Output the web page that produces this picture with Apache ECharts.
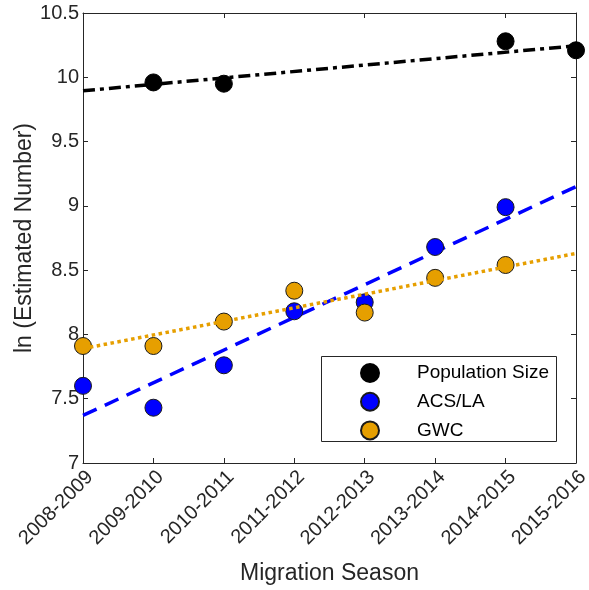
<!DOCTYPE html>
<html><head><meta charset="utf-8">
<script src="https://cdn.jsdelivr.net/npm/echarts@6/dist/echarts.min.js"></script>
<style>html,body{margin:0;padding:0;background:#fff}#c{width:589px;height:590px}</style>
</head><body><div id="c"></div>
<script>
const seasons = ['2008-2009','2009-2010','2010-2011','2011-2012','2012-2013','2013-2014','2014-2015','2015-2016'];
const popSize = [null, 9.96, 9.95, null, null, null, 10.28, 10.21];
const acsLa  = [7.60, 7.43, 7.76, 8.18, 8.25, 8.68, 8.99, null];
const gwc    = [7.91, 7.91, 8.10, 8.34, 8.17, 8.44, 8.54, null];
// fitted trend lines: [start value at first season, end value at last season]
const popTrend = [9.895, 10.245];
const acsTrend = [7.37, 9.15];
const gwcTrend = [7.89, 8.63];

const font = 'Liberation Sans, Arial, Helvetica, sans-serif';
const txt = '#262626';
const last = seasons.length - 1;
function trend(v){ return [[0, v[0]], [last, v[1]]]; }

const chart = echarts.init(document.getElementById('c'), null, {renderer:'canvas'});
const axisLine = {show:true, lineStyle:{color:'#262626', width:1}};
const tick = {show:true, inside:true, length:5, lineStyle:{color:'#262626'}};
chart.setOption({
  animation:false,
  backgroundColor:'#fff',
  textStyle:{fontFamily:font},
  grid:{left:83, right:13, top:13, bottom:127, containLabel:false, outerBoundsMode:'none'},
  graphic:[{type:'rect', shape:{x:321.5, y:356.5, width:235, height:85},
    style:{fill:'#fff', stroke:'#262626', lineWidth:1}, z:50}],
  legend:{
    data:['Population Size','ACS/LA','GWC'],
    orient:'vertical', left:360, top:363, z:60,
    itemWidth:18, itemHeight:18, itemGap:8.7,
    padding:0,
    textStyle:{fontFamily:font, fontSize:19, color:'#000', lineHeight:18, padding:[0,0,0,33]}
  },
  xAxis:[{
    type:'category', data:seasons, boundaryGap:false,
    axisLine:axisLine,
    axisTick:Object.assign({alignWithLabel:true}, tick),
    axisLabel:{rotate:45, fontFamily:font, fontSize:20, color:txt, margin:4, interval:0,
      align:'right', verticalAlign:'top'},
    splitLine:{show:false},
    name:'Migration Season', nameLocation:'middle', nameGap:99, nameMoveOverlap:false,
    nameTextStyle:{fontFamily:font, fontSize:23, color:txt}
  },{
    type:'category', data:seasons, boundaryGap:false, position:'top',
    axisLine:axisLine, axisTick:tick,
    axisLabel:{show:false}, splitLine:{show:false}
  }],
  yAxis:[{
    type:'value', min:7, max:10.5, interval:0.5,
    axisLine:axisLine, axisTick:tick,
    axisLabel:{fontFamily:font, fontSize:20, color:txt, margin:4,
      formatter:v=>String(+v.toFixed(1))},
    splitLine:{show:false},
    name:'ln (Estimated Number)', nameLocation:'middle', nameGap:47, nameRotate:90,
    nameMoveOverlap:false,
    nameTextStyle:{fontFamily:font, fontSize:23, color:txt}
  },{
    type:'value', min:7, max:10.5, interval:0.5, position:'right',
    axisLine:axisLine, axisTick:tick,
    axisLabel:{show:false}, splitLine:{show:false}
  }],
  series:[
    {name:'Population Trend', type:'line', data:trend(popTrend), showSymbol:false, symbol:'none',
      lineStyle:{color:'#000', width:3.5, type:[12,5,4,5]}, z:2, silent:true},
    {name:'ACS Trend', type:'line', data:trend(acsTrend), showSymbol:false, symbol:'none',
      lineStyle:{color:'#0000FF', width:3.5, type:[15,9]}, z:2, silent:true},
    {name:'GWC Trend', type:'line', data:trend(gwcTrend), showSymbol:false, symbol:'none',
      lineStyle:{color:'#E69F00', width:3.5, type:[3.5,3.5]}, z:4, silent:true},
    {name:'Population Size', type:'scatter', data:popSize, symbol:'circle', symbolSize:17,
      itemStyle:{color:'#000', borderColor:'#000', borderWidth:1, opacity:1}, z:3},
    {name:'ACS/LA', type:'scatter', data:acsLa, symbol:'circle', symbolSize:17,
      itemStyle:{color:'#0000FF', borderColor:'#1a1a1a', borderWidth:1, opacity:1}, z:3},
    {name:'GWC', type:'scatter', data:gwc, symbol:'circle', symbolSize:17,
      itemStyle:{color:'#E69F00', borderColor:'#1a1a1a', borderWidth:1, opacity:1}, z:3}
  ]
});
</script></body></html>
